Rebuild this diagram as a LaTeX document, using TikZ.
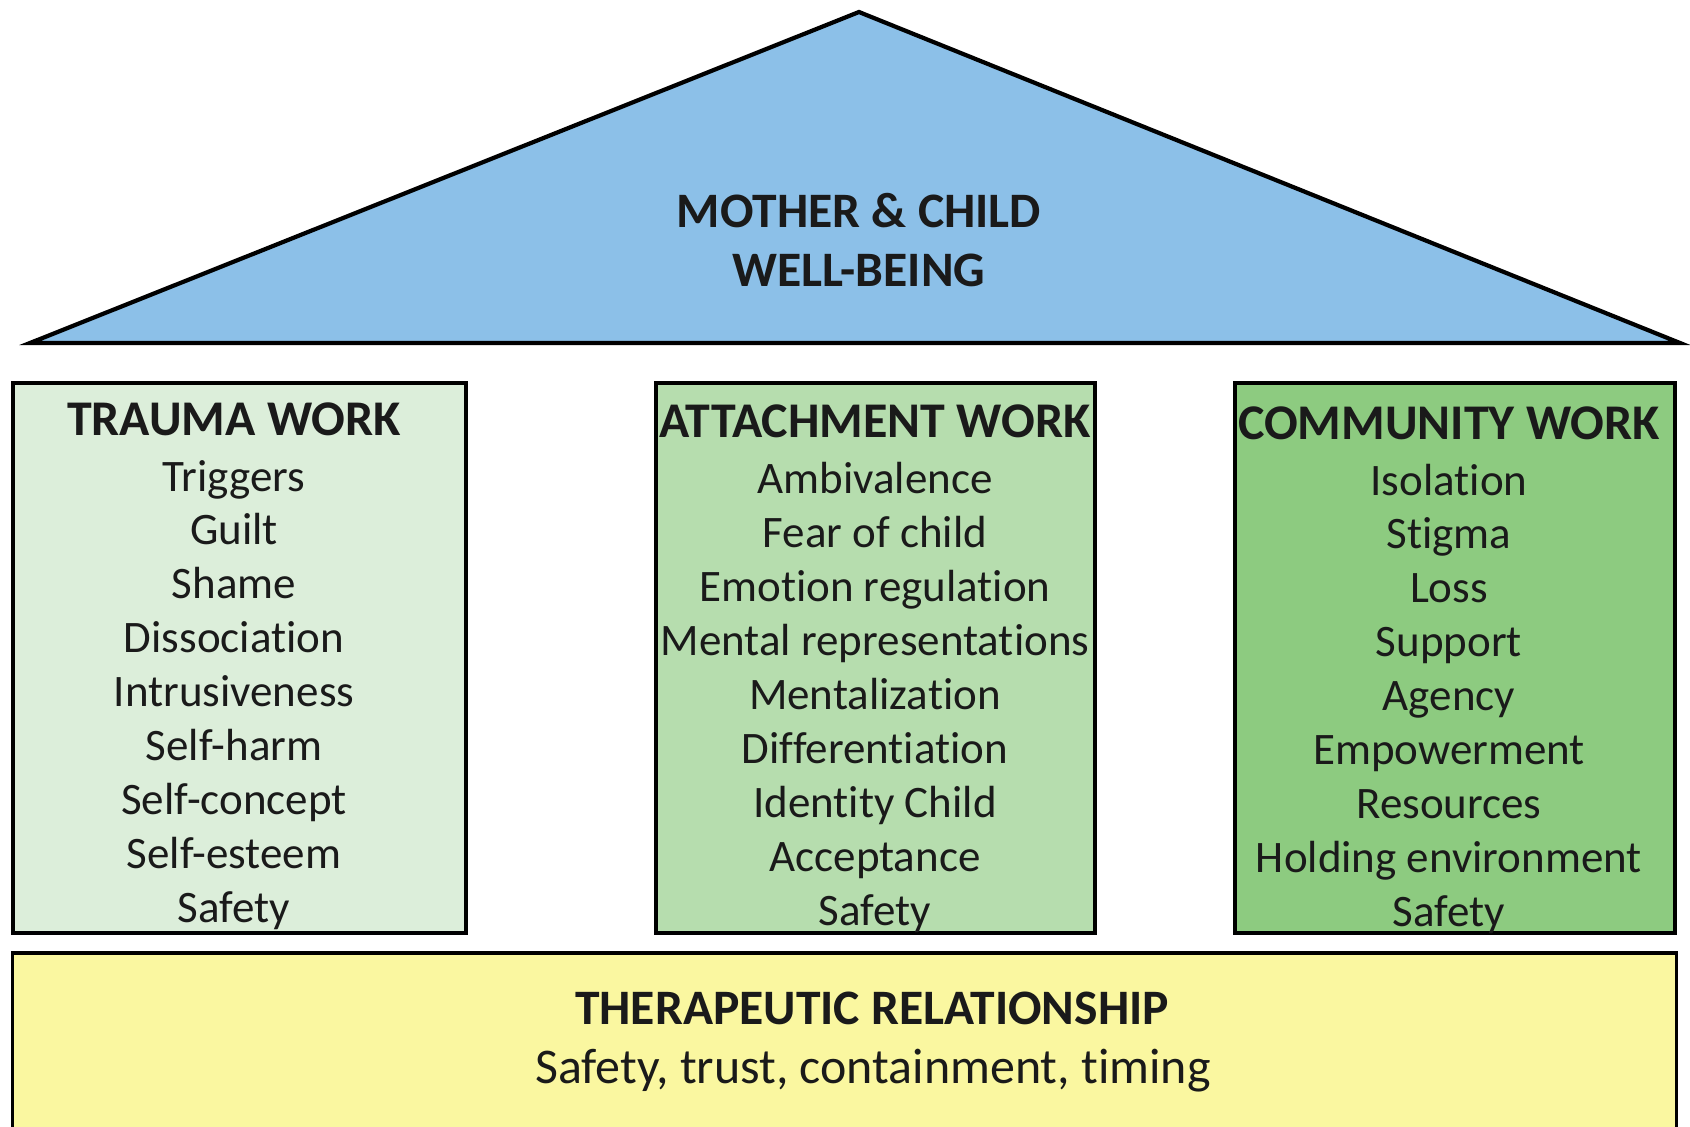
\documentclass[tikz,border=0pt]{standalone}
\usepackage{fontspec}
\setmainfont[Ligatures=NoCommon]{Carlito}
\definecolor{roofblue}{HTML}{8CC0E8}
\definecolor{traumagreen}{HTML}{DCEEDA}
\definecolor{attachgreen}{HTML}{B6DDAE}
\definecolor{communitygreen}{HTML}{8DCB80}
\definecolor{baseyellow}{HTML}{FAF7A0}
\definecolor{ink}{HTML}{1A1A1A}
\tikzset{
  roof/.style  ={draw=black, line width=1.2pt, fill=roofblue, line join=miter},
  pillar/.style={draw=black, line width=1.1pt, minimum width=4.4cm, minimum height=5.5cm, inner sep=0pt},
  found/.style ={draw=black, line width=1.1pt, fill=baseyellow, minimum width=16.63cm, minimum height=1.87cm, inner sep=0pt},
  big/.style   ={font=\fontsize{14.1}{17}\selectfont\bfseries, text=ink, anchor=base, inner sep=0pt},
  head/.style  ={font=\fontsize{14.2}{17}\selectfont\bfseries, text=ink, anchor=base, inner sep=0pt},
  item/.style  ={font=\fontsize{12.8}{15}\selectfont, text=ink, anchor=base, inner sep=0pt},
}

\begin{document}
\begin{tikzpicture}[x=0.01cm, y=-0.01cm]
  \clip (0,0) rectangle (1690,1126);

  % roof
  \coordinate (eaveL) at (30,343);
  \coordinate (peak)  at (859,12);
  \coordinate (eaveR) at (1680,343);
  \draw[roof] (eaveL) -- (peak) -- (eaveR) -- cycle;
  \node[big] (goal1) at (859,227) {MOTHER \& CHILD};
  \node[big] (goal2) at (859,286) {WELL-BEING};

  % pillars
  \node[pillar, fill=traumagreen, minimum width=4.53cm] (trauma) at (239.5,658) {};
  \node[pillar, fill=attachgreen, minimum width=4.39cm] (attach) at (875.5,658) {};
  \node[pillar, fill=communitygreen] (community) at (1455,658) {};

  \node[head] (traumahd) at (234,435) {TRAUMA WORK};
  \foreach \w [count=\i from 0] in {Triggers, Guilt, Shame, Dissociation, Intrusiveness,
      Self-harm, Self-concept, Self-esteem, Safety}
    \node[item] (trauma\i) at (234,{491+53.9*\i}) {\w};

  \node[head] (attachhd) at (875,437) {ATTACHMENT WORK};
  \foreach \w [count=\i from 0] in {Ambivalence, Fear of child, Emotion regulation,
      Mental representations, Mentalization, Differentiation, Identity Child, Acceptance, Safety}
    \node[item] (attach\i) at (875,{493+54*\i}) {\w};

  \node[head] (communityhd) at (1449,439) {COMMUNITY WORK};
  \foreach \w [count=\i from 0] in {Isolation, Stigma, Loss, Support, Agency,
      Empowerment, Resources, Holding environment, Safety}
    \node[item] (community\i) at (1449,{495+53.9*\i}) {\w};

  % foundation
  \node[found] (base) at (844.5,1046.5) {};
  \node[big] (basehd) at (872,1024) {THERAPEUTIC RELATIONSHIP};
  \node[item, font=\fontsize{14.2}{17}\selectfont] (basetx) at (873,1083) {Safety, trust, containment, timing};
\end{tikzpicture}
\end{document}
